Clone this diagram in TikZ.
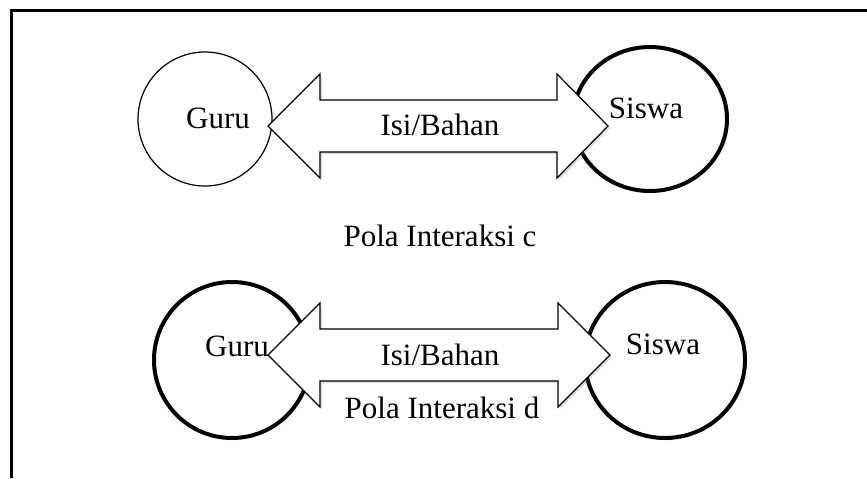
\documentclass[tikz,border=0pt]{standalone}
\usepackage{fontspec}
\setmainfont{Liberation Serif}
\usetikzlibrary{shadows,shapes.geometric}
\begin{document}
\begin{tikzpicture}[x=0.5pt,y=-0.5pt,
  ring/.style={ellipse,draw,inner sep=0pt},
  thinline/.style={line width=0.6pt},
  thickline/.style={line width=2pt},
  bigarrow/.style={draw,fill=white,line width=0.6pt,line join=miter,
    drop shadow={opacity=0.25,shadow xshift=1pt,shadow yshift=-1pt}},
  lbl/.style={anchor=base,inner sep=0pt,font=\fontsize{15.5}{18}\selectfont}]
\useasboundingbox (0,0) rectangle (867,478);
% frame
\coordinate (fA) at (867,10);
\coordinate (fB) at (11,10);
\coordinate (fC) at (11,478);
\draw[line width=1.5pt] (fA) -- (fB) -- (fC);
% ---- row c ----
\node[ring,thinline,minimum width=67pt,minimum height=67pt] (guruC) at (205,119) {};
\node[ring,thickline,minimum width=77pt,minimum height=72pt] (siswaC) at (650,119) {};
\draw[bigarrow] (268,126) -- (320,74) -- (320,100) -- (557,100) -- (557,74) -- (608,126)
  -- (557,178) -- (557,152) -- (320,152) -- (320,178) -- cycle;
\node[lbl] (tGuruC) at (218,128) {Guru};
\node[lbl] (tSiswaC) at (646,118) {Siswa};
\node[lbl] (tIsiC) at (440,135) {Isi/Bahan};
\node[lbl] (polaC) at (440,246) {Pola Interaksi c};
% ---- row d ----
\node[ring,thickline,minimum width=78pt,minimum height=78pt] (guruD) at (232,360) {};
\node[ring,thickline,minimum width=80pt,minimum height=78pt] (siswaD) at (665,360) {};
\draw[bigarrow] (268,355) -- (320,303) -- (320,329) -- (558,329) -- (558,303) -- (610,355)
  -- (558,407) -- (558,381) -- (320,381) -- (320,407) -- cycle;
\node[lbl] (tGuruD) at (237,356) {Guru};
\node[lbl] (tSiswaD) at (663,354) {Siswa};
\node[lbl] (tIsiD) at (440,365) {Isi/Bahan};
\node[lbl] (polaD) at (442,418) {Pola Interaksi d};
\end{tikzpicture}
\end{document}
